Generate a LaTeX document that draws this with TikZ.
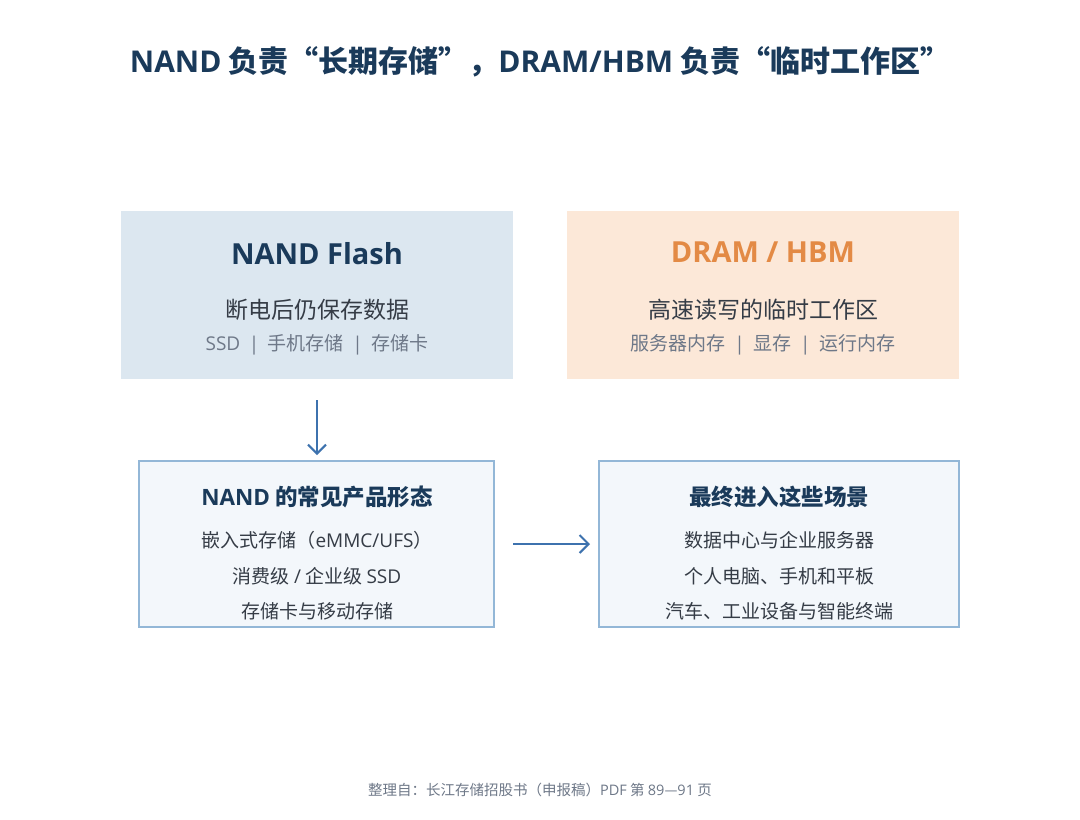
\documentclass[tikz,border=0pt]{standalone}
\usepackage{fontspec}
\setmainfont{Noto Sans CJK SC}
\newfontfamily\lat{Open Sans}
\usetikzlibrary{arrows.meta, positioning}

\definecolor{navy}{HTML}{1A3A5A}
\definecolor{nandfill}{HTML}{DCE7F0}
\definecolor{dramfill}{HTML}{FCE8D8}
\definecolor{dramorange}{HTML}{E38A45}
\definecolor{boxfill}{HTML}{F3F7FB}
\definecolor{boxline}{HTML}{93B7D7}
\definecolor{flowblue}{HTML}{3D72AE}
\definecolor{bodytext}{HTML}{353C46}
\definecolor{softtext}{HTML}{6E7888}

\newcommand{\sepbar}{\hspace{0.45em}{\lat|}\hspace{0.45em}}

\tikzset{
  topbox/.style={minimum width=392pt, minimum height=168pt, inner sep=0pt},
  lowbox/.style={draw=boxline, line width=2pt, fill=boxfill, minimum height=166pt, inner sep=0pt},
  flow/.style={draw=flowblue, line width=2pt, -{Straight Barb[length=9pt, width=18pt, line width=2pt]}},
  bodyline/.style={text=bodytext, font=\fontsize{19}{22}\selectfont},
  softline/.style={text=softtext, font=\fontsize{19}{22}\selectfont},
  boxname/.style={font=\lat\bfseries\fontsize{29}{34}\selectfont},
  boxrole/.style={text=bodytext, font=\fontsize{23}{26}\selectfont},
  lowhead/.style={text=navy, font=\bfseries\fontsize{22.5}{26}\selectfont}
}

\begin{document}
\begin{tikzpicture}[x=1pt, y=-1pt]
\useasboundingbox[fill=white] (0,0) rectangle (1080,820);

\node (title) at (540, 62) [text=navy, font=\bfseries\fontsize{30}{35}\selectfont]
  {{\lat NAND} 负责“长期存储”，{\lat DRAM/HBM} 负责“临时工作区”};

% top row
\node (nand) at (317, 295) [topbox, fill=nandfill] {};
\node (nandname) at (317, 254) [boxname, text=navy] {NAND Flash};
\node (nandrole) at (317, 310) [boxrole] {断电后仍保存数据};
\node (nanduse) at (317, 345) [softline] {{\lat SSD}\sepbar 手机存储\sepbar 存储卡};

\node (dram) at (763, 295) [topbox, fill=dramfill] {};
\node (dramname) at (763, 252) [boxname, text=dramorange] {DRAM / HBM};
\node (dramrole) at (763, 310) [boxrole] {高速读写的临时工作区};
\node (dramuse) at (763, 345) [softline] {服务器内存\sepbar 显存\sepbar 运行内存};

% bottom row
\node (forms) at (316.5, 544) [lowbox, minimum width=355pt] {};
\node (formshead) at (317, 497) [lowhead] {{\lat NAND} 的常见产品形态};
\node (formsa) at (317, 540) [bodyline] {嵌入式存储（{\lat eMMC/UFS}）};
\node (formsb) at (317, 576) [bodyline] {消费级 {\lat /} 企业级 {\lat SSD}};
\node (formsc) at (317, 611) [bodyline] {存储卡与移动存储};

\node (scenes) at (779, 544) [lowbox, minimum width=360pt] {};
\node (sceneshead) at (779, 497) [lowhead] {最终进入这些场景};
\node (scenesa) at (779, 540) [bodyline] {数据中心与企业服务器};
\node (scenesb) at (779, 576) [bodyline] {个人电脑、手机和平板};
\node (scenesc) at (779, 611) [bodyline] {汽车、工业设备与智能终端};

\draw[flow, shorten <=21pt, shorten >=5pt] (nand.south) -- (nand.south |- forms.north);
\draw[flow, shorten <=18pt, shorten >=8pt] (forms.east) -- (scenes.west);

\node (source) at (540, 790) [text=softtext, font=\fontsize{14.5}{17}\selectfont]
  {整理自：长江存储招股书（申报稿）{\lat PDF} 第 {\lat 89}—{\lat 91} 页};
\end{tikzpicture}
\end{document}
